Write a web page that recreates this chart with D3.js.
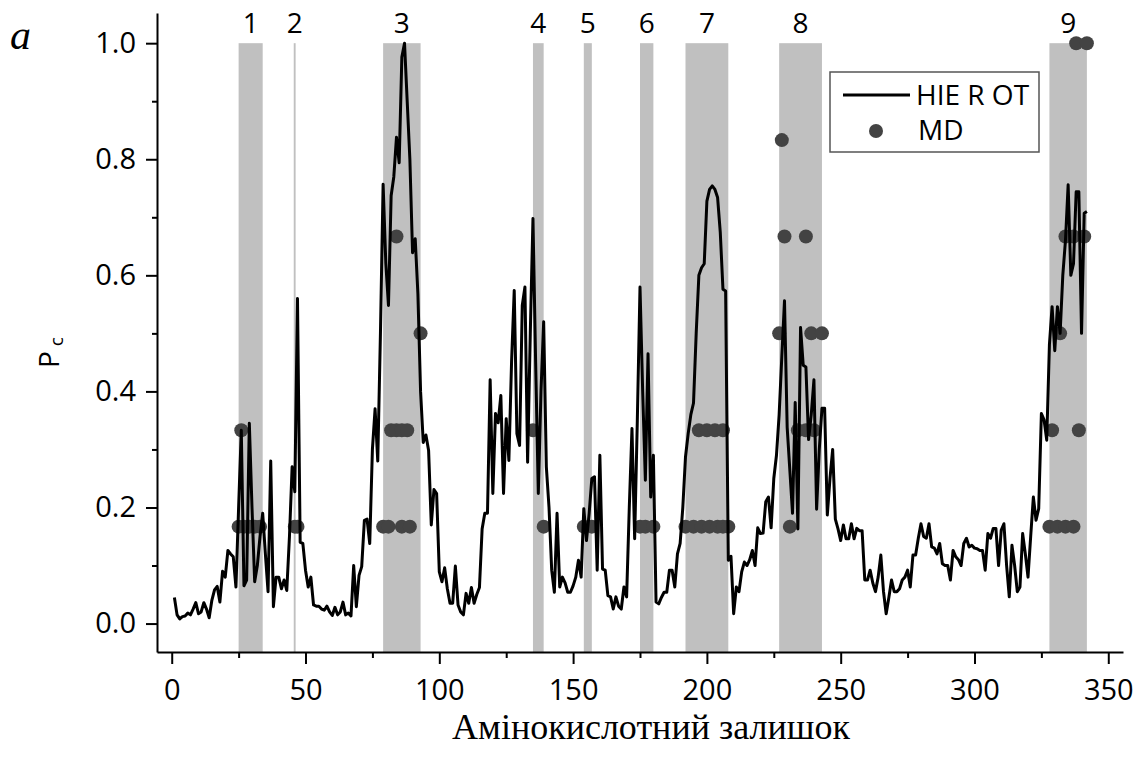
<!DOCTYPE html>
<html>
<head>
<meta charset="utf-8">
<script src="https://cdn.jsdelivr.net/npm/d3@7"></script>
<style>
  body { margin: 0; background: #fff; }
  svg text { font-family: "Open Sans", sans-serif; fill: #000; }
</style>
</head>
<body>
<div id="chart"></div>
<script>
// ============================================================================
// DATA
// ============================================================================
// HIEROT contact probability, one value per residue (residue 1 .. 342)
const pc = [
  0.045, 0.015, 0.008, 0.012, 0.013, 0.018, 0.015, 0.025, 0.036, 0.017,
  0.020, 0.036, 0.025, 0.010, 0.040, 0.058, 0.064, 0.037, 0.090, 0.080,
  0.126, 0.120, 0.115, 0.063, 0.200, 0.333, 0.065, 0.075, 0.345, 0.200,
  0.072, 0.100, 0.150, 0.190, 0.120, 0.055, 0.280, 0.029, 0.080, 0.080,
  0.060, 0.075, 0.057, 0.150, 0.270, 0.227, 0.560, 0.140, 0.138, 0.092,
  0.063, 0.080, 0.032, 0.030, 0.030, 0.025, 0.023, 0.030, 0.020, 0.014,
  0.028, 0.015, 0.020, 0.037, 0.015, 0.018, 0.013, 0.100, 0.029, 0.083,
  0.098, 0.178, 0.180, 0.138, 0.300, 0.370, 0.280, 0.500, 0.757, 0.622,
  0.548, 0.737, 0.770, 0.838, 0.794, 0.976, 1.000, 0.900, 0.800, 0.639,
  0.663, 0.568, 0.400, 0.312, 0.325, 0.298, 0.170, 0.231, 0.224, 0.089,
  0.072, 0.096, 0.060, 0.035, 0.035, 0.099, 0.032, 0.020, 0.015, 0.052,
  0.035, 0.062, 0.035, 0.050, 0.062, 0.163, 0.190, 0.190, 0.420, 0.224,
  0.362, 0.346, 0.393, 0.224, 0.353, 0.281, 0.450, 0.574, 0.327, 0.307,
  0.548, 0.580, 0.278, 0.500, 0.698, 0.450, 0.224, 0.400, 0.520, 0.270,
  0.200, 0.092, 0.054, 0.190, 0.063, 0.080, 0.070, 0.054, 0.054, 0.065,
  0.080, 0.109, 0.080, 0.198, 0.143, 0.190, 0.250, 0.253, 0.092, 0.290,
  0.094, 0.092, 0.048, 0.046, 0.025, 0.046, 0.030, 0.025, 0.063, 0.046,
  0.200, 0.336, 0.146, 0.350, 0.580, 0.400, 0.247, 0.465, 0.218, 0.290,
  0.037, 0.034, 0.045, 0.054, 0.054, 0.092, 0.092, 0.063, 0.120, 0.138,
  0.200, 0.287, 0.327, 0.360, 0.380, 0.500, 0.600, 0.613, 0.620, 0.728,
  0.748, 0.754, 0.748, 0.734, 0.674, 0.576, 0.573, 0.109, 0.116, 0.017,
  0.063, 0.055, 0.089, 0.106, 0.100, 0.110, 0.126, 0.100, 0.165, 0.155,
  0.156, 0.210, 0.218, 0.165, 0.250, 0.290, 0.360, 0.460, 0.556, 0.338,
  0.264, 0.190, 0.381, 0.163, 0.510, 0.445, 0.442, 0.317, 0.360, 0.420,
  0.197, 0.300, 0.371, 0.371, 0.187, 0.250, 0.300, 0.180, 0.163, 0.143,
  0.170, 0.146, 0.146, 0.172, 0.146, 0.164, 0.160, 0.160, 0.075, 0.075,
  0.092, 0.070, 0.055, 0.080, 0.118, 0.055, 0.017, 0.045, 0.075, 0.055,
  0.055, 0.060, 0.075, 0.080, 0.092, 0.063, 0.118, 0.118, 0.147, 0.172,
  0.150, 0.147, 0.172, 0.132, 0.130, 0.120, 0.138, 0.103, 0.100, 0.100,
  0.075, 0.126, 0.115, 0.110, 0.100, 0.138, 0.147, 0.132, 0.135, 0.130,
  0.129, 0.126, 0.126, 0.092, 0.155, 0.147, 0.164, 0.164, 0.100, 0.161,
  0.172, 0.100, 0.046, 0.135, 0.100, 0.055, 0.063, 0.155, 0.120, 0.080,
  0.150, 0.218, 0.178, 0.198, 0.362, 0.351, 0.316, 0.480, 0.546, 0.470,
  0.546, 0.500, 0.600, 0.660, 0.756, 0.600, 0.620, 0.744, 0.744, 0.500,
  0.707, 0.710
];

// MD points (residue, probability)
const mdResidue = [
  25, 27, 29, 31, 33, 26,
  46, 47,
  79, 81, 86, 89, 82, 84, 86, 88, 93, 84,
  135, 139,
  154, 157,
  175, 177, 180,
  192, 195, 198, 201, 204, 206, 208, 197, 200, 203, 206,
  231, 234, 237, 240, 227, 239, 243, 229, 237, 228,
  328, 331, 334, 337, 329, 339, 332, 334, 337, 341, 338, 342
];
const mdValue = [
  0.167, 0.167, 0.167, 0.167, 0.167, 0.333,
  0.167, 0.167,
  0.167, 0.167, 0.167, 0.167, 0.333, 0.333, 0.333, 0.333, 0.5, 0.667,
  0.333, 0.167,
  0.167, 0.167,
  0.167, 0.167, 0.167,
  0.167, 0.167, 0.167, 0.167, 0.167, 0.167, 0.167, 0.333, 0.333, 0.333, 0.333,
  0.167, 0.333, 0.333, 0.333, 0.5, 0.5, 0.5, 0.667, 0.667, 0.833,
  0.167, 0.167, 0.167, 0.167, 0.333, 0.333, 0.5, 0.667, 0.667, 0.667, 1.0, 1.0
];

// shaded regions
const bandStart = [25, 45.6, 79, 135, 154, 175, 192, 227, 328];
const bandEnd = [34, 46.3, 93, 139, 157, 180, 208, 243, 342];
const bandLabel = ["1", "2", "3", "4", "5", "6", "7", "8", "9"];

// ticks
const xTicks = [0, 50, 100, 150, 200, 250, 300, 350];
const xMinorTicks = [25, 75, 125, 175, 225, 275, 325];
const yTicks = [0, 0.2, 0.4, 0.6, 0.8, 1.0];
const yMinorTicks = [0.1, 0.3, 0.5, 0.7, 0.9];


// ============================================================================
// SVG SETUP
// ============================================================================
const W = 1144, H = 762;
const plot = { left: 157, right: 1123, top: 13, bottom: 652 };

const svg = d3.select('#chart')
  .append('svg')
  .attr('width', W)
  .attr('height', H)
  .style('display', 'block');

svg.append('rect').attr('width', W).attr('height', H).attr('fill', '#fff');


// ============================================================================
// SCALES
// ============================================================================
const x = d3.scaleLinear()
  .domain([-5.5, 355.5])
  .range([plot.left, plot.right]);

const y = d3.scaleLinear()
  .domain([-0.049, 1.052])
  .range([plot.bottom, plot.top]);


// ============================================================================
// BANDS
// ============================================================================
bandStart.forEach((s, i) => {
  svg.append('rect')
    .attr('x', x(s))
    .attr('y', y(1.0))
    .attr('width', x(bandEnd[i]) - x(s))
    .attr('height', y.range()[0] - y(1.0))
    .attr('fill', '#c0c0c0');

  svg.append('text')
    .attr('x', x((s + bandEnd[i]) / 2))
    .attr('y', 33)
    .attr('text-anchor', 'middle')
    .style('font-size', '28px')
    .text(bandLabel[i]);
});


// ============================================================================
// MD POINTS AND HIEROT LINE
// ============================================================================
svg.append('g')
  .selectAll('circle')
  .data(mdResidue)
  .join('circle')
  .attr('cx', d => x(d))
  .attr('cy', (d, i) => y(mdValue[i]))
  .attr('r', 7)
  .attr('fill', '#434343');

const line = d3.line()
  .x((d, i) => x(i + 1))
  .y(d => y(d));

svg.append('path')
  .datum(pc)
  .attr('fill', 'none')
  .attr('stroke', '#000')
  .attr('stroke-width', 3)
  .attr('stroke-linejoin', 'round')
  .attr('d', line);


// ============================================================================
// AXES
// ============================================================================
const xAxis = d3.axisBottom(x)
  .tickValues(xTicks)
  .tickSize(12)
  .tickSizeOuter(0)
  .tickPadding(15);

const gx = svg.append('g')
  .attr('transform', `translate(0, ${plot.bottom})`)
  .call(xAxis);

svg.append('g')
  .attr('transform', `translate(0, ${plot.bottom})`)
  .call(d3.axisBottom(x).tickValues(xMinorTicks).tickSize(6).tickSizeOuter(0).tickFormat(''))
  .select('.domain').remove();

const yAxis = d3.axisLeft(y)
  .tickValues(yTicks)
  .tickSize(11)
  .tickSizeOuter(0)
  .tickPadding(10)
  .tickFormat(d3.format('.1f'));

const gy = svg.append('g')
  .attr('transform', `translate(${plot.left}, 0)`)
  .call(yAxis);

svg.append('g')
  .attr('transform', `translate(${plot.left}, 0)`)
  .call(d3.axisLeft(y).tickValues(yMinorTicks).tickSize(5).tickSizeOuter(0).tickFormat(''))
  .select('.domain').remove();

svg.selectAll('.domain, .tick line')
  .attr('stroke', '#000')
  .attr('stroke-width', 2);

[gx, gy].forEach(g => g.selectAll('.tick text')
  .style('font-family', '"Open Sans", sans-serif')
  .style('font-size', '29px')
  .attr('fill', '#000'));


// ============================================================================
// LABELS
// ============================================================================
svg.append('text')
  .attr('x', 651)
  .attr('y', 739)
  .attr('text-anchor', 'middle')
  .style('font-family', '"Liberation Serif", "Times New Roman", serif')
  .style('font-size', '36px')
  .text('Амінокислотний залишок');

const yLabel = svg.append('text')
  .attr('transform', 'translate(59, 368) rotate(-90)')
  .style('font-size', '28px');
yLabel.append('tspan').text('P');
yLabel.append('tspan')
  .attr('dx', 5)
  .attr('dy', 4)
  .style('font-size', '19px')
  .text('c');

svg.append('text')
  .attr('x', 10)
  .attr('y', 49)
  .style('font-family', '"Liberation Serif", "Times New Roman", serif')
  .style('font-style', 'italic')
  .style('font-size', '42px')
  .text('a');


// ============================================================================
// LEGEND
// ============================================================================
const legend = svg.append('g')
  .attr('transform', 'translate(830, 72)');

legend.append('rect')
  .attr('width', 209)
  .attr('height', 80)
  .attr('fill', '#fff')
  .attr('stroke', '#555')
  .attr('stroke-width', 1.5);

legend.append('line')
  .attr('x1', 13).attr('x2', 80)
  .attr('y1', 23).attr('y2', 23)
  .attr('stroke', '#000')
  .attr('stroke-width', 3);

legend.append('text')
  .attr('x', 86)
  .attr('y', 33)
  .style('font-size', '28px')
  .text('HIE R OT');

legend.append('circle')
  .attr('cx', 46)
  .attr('cy', 59)
  .attr('r', 7)
  .attr('fill', '#434343');

legend.append('text')
  .attr('x', 88)
  .attr('y', 68)
  .style('font-size', '28px')
  .text('MD');
</script>
</body>
</html>
